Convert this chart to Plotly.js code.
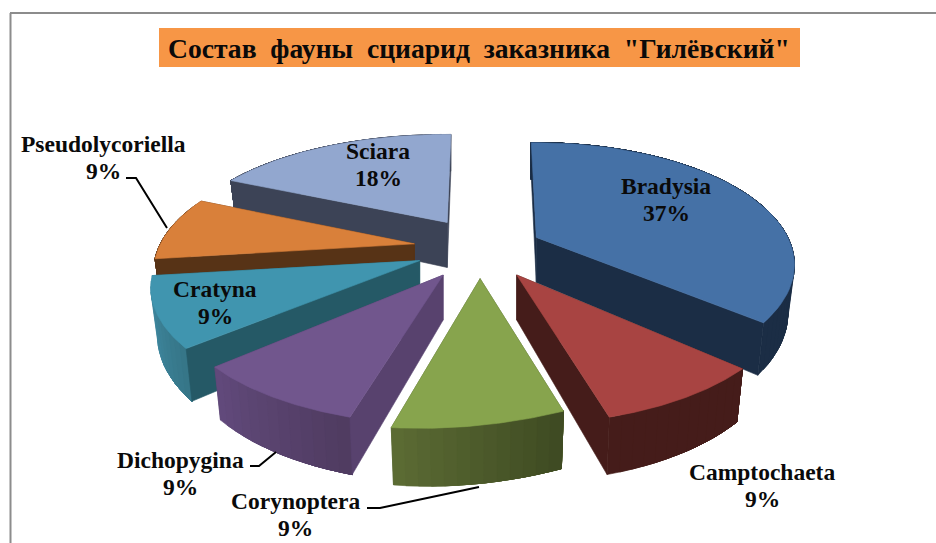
<!DOCTYPE html>
<html><head><meta charset="utf-8">
<script src="https://cdn.plot.ly/plotly-3.0.1.min.js"></script>
<style>html,body{margin:0;padding:0;background:#fff}#c{width:936px;height:543px}</style>
</head><body><div id="c"></div>
<script>
const categories = ["Bradysia","Camptochaeta","Corynoptera","Dichopygina","Cratyna","Pseudolycoriella","Sciara"];
const values = [37,9,9,9,9,9,18];
const topColors = ["#4571A6","#A84442","#87A44D","#71568D","#4095AF","#D9803A","#92A7CF"];
const edgeColors = ["#1B2D45","#451C1A","#4E5C2C","#58426E","#255966","#573316","#3C4356"];
const outerLeft = ["#1B2D45","#451C1A","#5C6C34","#624A7C","#428FA8","#573316","#3C4356"];
const outerRight = ["#1B2D45","#451C1A","#3E4A22","#4F3B60","#367587","#573316","#3C4356"];
const titleText = 'Состав\u00A0\u00A0фауны\u00A0\u00A0сциарид\u00A0\u00A0заказника\u00A0\u00A0"Гилёвский"';
const labelAt = [[666,199],[762,485],[295,514],[180,473],[215,302],[103,157],[378,164]];
const leaders = ["M126,178 L136,178 L167,228","M250,466 L259,466 L276,452","M367,508 L380,508 L479,487"];

// projection of the tilted pie, with small per-slice corrections for the camera
const CX=478, CY=250, R=262, T=116, K=0.225, H=45, EXPL=0.23, TAPER=0.025;
const nudgeX = [3,8,4,-1,-3,-4,1.5];
const nudgeY = [-2,2,2,3,0,-2,-5];
const startTune = [-1.4,0,0,-1.8,-0.8,0,0];
const endTune = [-4,-1.7,-2.6,-2.7,0,-1.5,1];
const xScale = [0.96,1,1,1,1,0.97,1];
const yScale = [1,1,0.98,1,1,1,0.93];
const roll = [0,0,-0.1,0,0,0,0];
function proj(s,u,v,z){
  const p=1/(1-K*v), i=s.i;
  const dx=R*u*p*xScale[i];
  return [CX+R*s.ox+nudgeX[i]+dx*(1-TAPER*z), CY+T*s.oy+nudgeY[i]+T*v*p*yScale[i]+roll[i]*dx+H*z*p];
}
function hex(c){return [1,3,5].map(i=>parseInt(c.substr(i,2),16));}
function mix(a,b,t){const A=hex(a),B=hex(b);return 'rgb('+A.map((x,i)=>Math.round(x+(B[i]-x)*t)).join(',')+')';}

const total=values.reduce((a,b)=>a+b,0);
let acc=0;
const slices=values.map((val,i)=>{
  const a0=acc/total*2*Math.PI; acc+=val; const a1=acc/total*2*Math.PI; const m=(a0+a1)/2;
  return {i,val,a0,a1,m,ox:EXPL*Math.sin(m),oy:-EXPL*Math.cos(m)};
});
function rim(s,a,z){
  const f=(a-s.a0)/(s.a1-s.a0);
  const d=a+(startTune[s.i]*(1-f)+endTune[s.i]*f)*Math.PI/180;
  return proj(s,Math.sin(d),-Math.cos(d),z);
}
function poly(pts,color,name){
  return {type:'scatter',mode:'lines',x:pts.map(p=>p[0]).concat(pts[0][0]),y:pts.map(p=>p[1]).concat(pts[0][1]),
    fill:'toself',fillcolor:color,line:{color:color,width:0.6},showlegend:false,hoverinfo:'text',text:name,hoveron:'fills'};
}
const traces=[];
slices.slice().sort((a,b)=>Math.cos(b.m)-Math.cos(a.m)).forEach(s=>{
  const name=categories[s.i]+': '+s.val+'%';
  const apex=z=>proj(s,0,0,z);
  const wall=(a)=>[apex(0),rim(s,a,0),rim(s,a,1),apex(1)];
  const w0=wall(s.a0), w1=wall(s.a1);
  const w0Front=Math.sin(s.a0)<-1e-6, w1Front=Math.sin(s.a1)>1e-6;
  const c=edgeColors[s.i];
  if(!w0Front) traces.push(poly(w0,c,name));
  if(!w1Front) traces.push(poly(w1,c,name));
  // outer wall: each band reaches to the slice's far end, the next band paints over it, so no seams
  const n=Math.max(4,Math.ceil((s.a1-s.a0)/(Math.PI/72)));
  for(let k=0;k<n;k++){
    const upper=[], lower=[];
    for(let j=k;j<=n;j++){const b=s.a1-(s.a1-s.a0)*j/n; upper.push(rim(s,b,0)); lower.unshift(rim(s,b,1));}
    traces.push(poly(upper.concat(lower),mix(outerLeft[s.i],outerRight[s.i],(k+0.5)/n),name));
  }
  if(w0Front) traces.push(poly(w0,c,name));
  if(w1Front) traces.push(poly(w1,c,name));
  const top=[apex(0)];
  for(let k=0;k<=60;k++) top.push(rim(s,s.a0+(s.a1-s.a0)*k/60,0));
  traces.push(poly(top,topColors[s.i],name));
});

const labelFont={family:'"Liberation Serif","Times New Roman",serif',size:23.5,color:'#0a0a0a'};
const annotations=[];
categories.forEach((c,i)=>{
  [[c,-13.5],[values[i]+'%',13.5]].forEach(l=>annotations.push({xref:'x',yref:'y',x:labelAt[i][0],y:labelAt[i][1]+l[1],
    text:'<b>'+l[0]+'</b>',showarrow:false,font:labelFont,xanchor:'center',yanchor:'middle'}));
});
annotations.push({xref:'x',yref:'y',x:478.5,y:48,text:'<b>'+titleText+'</b>',showarrow:false,
  font:{family:'"Liberation Serif","Times New Roman",serif',size:27.6,color:'#0a0a0a'},xanchor:'center',yanchor:'middle'});

const shapes=[
  {type:'line',xref:'x',yref:'y',x0:10.5,y0:13,x1:10.5,y1:543,line:{color:'#8C8C8C',width:2},layer:'below'},
  {type:'line',xref:'x',yref:'y',x0:10,y0:13,x1:936,y1:13,line:{color:'#8C8C8C',width:2},layer:'below'},
  {type:'rect',xref:'x',yref:'y',x0:159,y0:28,x1:800,y1:67,fillcolor:'#F79646',line:{width:0},layer:'below'}
].concat(leaders.map(p=>({type:'path',xref:'x',yref:'y',path:p,line:{color:'#000',width:2},layer:'above'})));

Plotly.newPlot('c',traces,{
  width:936,height:543,margin:{l:0,r:0,t:0,b:0},paper_bgcolor:'#fff',plot_bgcolor:'#fff',showlegend:false,
  xaxis:{range:[0,936],visible:false,fixedrange:true},
  yaxis:{range:[543,0],visible:false,fixedrange:true},
  shapes,annotations
},{displayModeBar:false,responsive:false});
</script></body></html>
